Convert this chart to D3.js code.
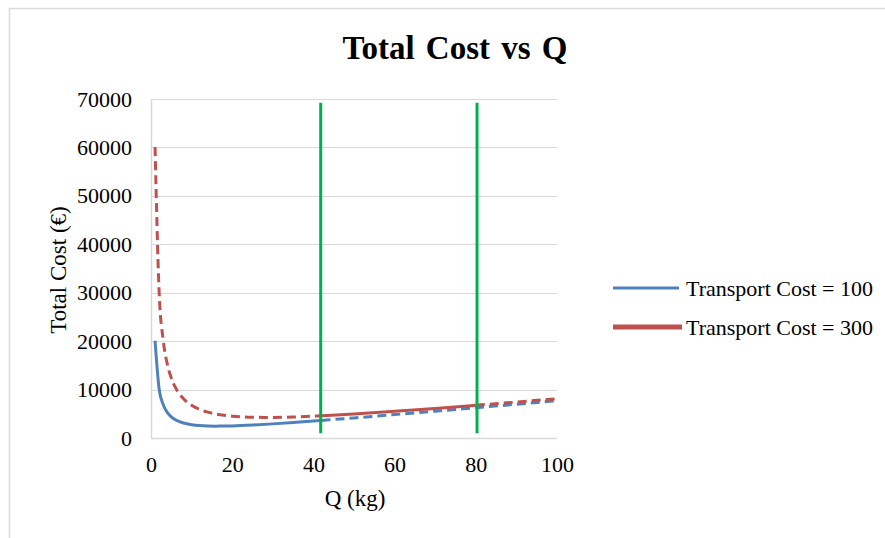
<!DOCTYPE html>
<html><head><meta charset="utf-8">
<script src="https://cdn.jsdelivr.net/npm/d3@7"></script>
<style>body{margin:0;background:#fff}svg{display:block}text{font-family:"Liberation Serif","Times New Roman",serif;fill:#000}</style>
</head><body><svg id="c" width="885" height="538"></svg>
<script>
const qValues = [1,2,3,4,5,6,8,10,12,14,16,18,20,25,30,35,40,42,50,60,70,80,90,100];
const cost100 = [20080,10150,6890,5300,4375,3783,3100,2750,2567,2479,2450,2461,2500,2675,2917,3196,3500,3626,4150,4833,5536,6250,6972,7700];
const cost300 = [60080,30150,20225,15300,12375,10450,8100,6750,5900,5336,4950,4683,4500,4275,4250,4339,4500,4579,4950,5500,6107,6750,7417,8100];
const markerQ = [41.8, 80.3];
const markerRange = [1000, 69200];
const xTicks = [0,20,40,60,80,100];
const yTicks = [0,10000,20000,30000,40000,50000,60000,70000];
const seriesNames = ["Transport Cost = 100","Transport Cost = 300"];
const colors = ["#4F81BD","#C0504D"];

const svg = d3.select("#c");
// outer chart frame
svg.append("path").attr("d","M9.5,538 V8.5 H885").attr("fill","none").attr("stroke","#D9D9D9").attr("stroke-width",1.5);

const x = d3.scaleLinear().domain([0,100]).range([151,557]);
const y = d3.scaleLinear().domain([0,70000]).range([438,99]);

// gridlines
svg.append("g").selectAll("line").data(yTicks.slice(1)).join("line")
  .attr("x1",x(0)).attr("x2",x(100)).attr("y1",d=>Math.round(y(d))+0.5).attr("y2",d=>Math.round(y(d))+0.5)
  .attr("stroke","#D9D9D9").attr("stroke-width",1);
// axes lines
svg.append("line").attr("x1",x(0)).attr("x2",x(100)).attr("y1",Math.round(y(0))+0.5).attr("y2",Math.round(y(0))+0.5).attr("stroke","#D9D9D9").attr("stroke-width",1.5);
svg.append("line").attr("x1",Math.round(x(0))+0.5).attr("x2",Math.round(x(0))+0.5).attr("y1",y(0)).attr("y2",y(70000)).attr("stroke","#D9D9D9").attr("stroke-width",1.5);

// tick labels via axes
const yAxis = svg.append("g").attr("transform",`translate(${x(0)},0)`).call(d3.axisLeft(y).tickValues(yTicks).tickSize(0).tickPadding(19).tickFormat(d3.format("d")));
yAxis.select(".domain").remove();
yAxis.selectAll("text").attr("font-size",22).attr("font-family","Liberation Serif").attr("fill","#000");
const xAxis = svg.append("g").attr("transform",`translate(0,${y(0)})`).call(d3.axisBottom(x).tickValues(xTicks).tickSize(0).tickPadding(18));
xAxis.select(".domain").remove();
xAxis.selectAll("text").attr("font-size",22).attr("font-family","Liberation Serif").attr("fill","#000");

const data100 = qValues.map((q,i)=>({q,v:cost100[i]}));
const data300 = qValues.map((q,i)=>({q,v:cost300[i]}));
const line = d3.line().x(d=>x(d.q)).y(d=>y(d.v)).curve(d3.curveMonotoneX);
function seg(data, lo, hi){ return data.filter(d=>d.q>=lo && d.q<=hi); }

function draw(data, color, dashed){
  const p = svg.append("path").attr("d",line(data)).attr("fill","none").attr("stroke",color).attr("stroke-width",3).attr("stroke-linejoin","round");
  if(dashed) p.attr("stroke-dasharray","9,5");
}
// blue: solid up to 42, dashed after
draw(seg(data100,1,42),colors[0],false);
draw(seg(data100,42,100),colors[0],true);
// red: dashed to 42, solid 42-80, dashed after
draw(seg(data300,1,42),colors[1],true);
draw(seg(data300,42,80),colors[1],false);
draw(seg(data300,80,100),colors[1],true);

// green markers
svg.append("g").selectAll("line").data(markerQ).join("line")
  .attr("x1",d=>x(d)).attr("x2",d=>x(d)).attr("y1",y(markerRange[0])).attr("y2",y(markerRange[1]))
  .attr("stroke","#00B050").attr("stroke-width",3);

// title
svg.append("text").attr("x",455).attr("y",59).attr("text-anchor","middle").attr("font-size",33).attr("font-weight","bold").attr("word-spacing",3).text("Total Cost vs Q");
// axis titles
svg.append("text").attr("x",355).attr("y",506).attr("text-anchor","middle").attr("font-size",23).text("Q (kg)");
svg.append("text").attr("transform","translate(66,270) rotate(-90)").attr("text-anchor","middle").attr("font-size",23).text("Total Cost (€)");

// legend
const leg = svg.append("g");
[0,1].forEach(i=>{
  const ly = 288 + i*39;
  leg.append("line").attr("x1",613).attr("x2",i===0?679:682).attr("y1",ly).attr("y2",ly).attr("stroke",colors[i]).attr("stroke-width",i===0?3:5);
  leg.append("text").attr("x",686).attr("y",ly+8).attr("font-size",22).text(seriesNames[i]);
});
</script></body></html>
